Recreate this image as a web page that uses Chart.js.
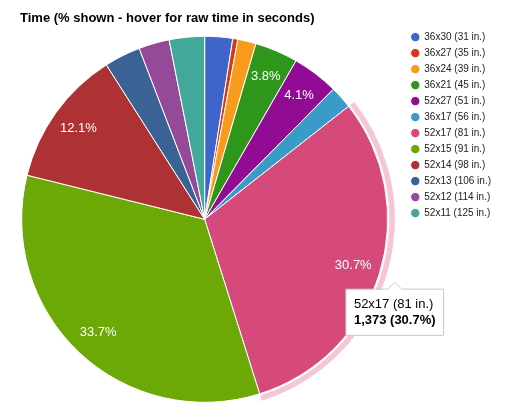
<!DOCTYPE html>
<html>
<head>
<meta charset="utf-8">
<title>Time per gear</title>
<script src="https://cdn.jsdelivr.net/npm/chart.js@4.4.1/dist/chart.umd.min.js"></script>
<style>
  html, body { margin: 0; padding: 0; background: #fff; }
  #wrap { position: relative; width: 531px; height: 417px; }
</style>
</head>
<body>
<div id="wrap"><canvas id="timeChart"></canvas></div>
<script>
const gears = ['36x30', '36x27', '36x24', '36x21', '52x27', '36x17', '52x17', '52x15', '52x14', '52x13', '52x12', '52x11'];
const gearInches = [31, 35, 39, 45, 51, 56, 81, 91, 98, 106, 114, 125];
const seconds = [110, 20, 72, 170, 183, 89, 1373, 1507, 541, 143, 121, 139];
const sliceColors = ['#3e66ca', '#d6391a', '#f89b1c', '#2f961c', '#920b95', '#3a9bc8',
                     '#d64a7b', '#6ca806', '#ae3134', '#3a6294', '#954a99', '#41a89a'];
const highlighted = '52x17';

const labels = gears.map((g, i) => `${g} (${gearInches[i]} in.)`);
const total = seconds.reduce((a, b) => a + b, 0);
const pct = v => v / total * 100;

const FONT = '"Liberation Sans", Arial, sans-serif';

// tooltip sits just outside the hovered slice
Chart.Tooltip.positioners.outerEdge = function (items) {
    if (!items.length) return false;
    const { x, y, startAngle, endAngle, outerRadius } =
        items[0].element.getProps(['x', 'y', 'startAngle', 'endAngle', 'outerRadius'], true);
    const mid = (startAngle + endAngle) / 2;
    const r = outerRadius + 16;
    return { x: x + Math.cos(mid) * r, y: y + Math.sin(mid) * r };
};

// percent text inside the bigger slices
const sliceLabels = {
    id: 'sliceLabels',
    afterDatasetsDraw(chart) {
        const { ctx } = chart;
        const meta = chart.getDatasetMeta(0);
        ctx.save();
        ctx.font = `13px ${FONT}`;
        ctx.fillStyle = '#fff';
        ctx.textAlign = 'center';
        ctx.textBaseline = 'middle';
        meta.data.forEach((arc, i) => {
            const p = pct(seconds[i]);
            if (p < 3.5) return;
            const { x, y, startAngle, endAngle, outerRadius } =
                arc.getProps(['x', 'y', 'startAngle', 'endAngle', 'outerRadius'], true);
            const mid = (startAngle + endAngle) / 2;
            const r = outerRadius * 0.85;
            ctx.fillText(p.toFixed(1) + '%', x + Math.cos(mid) * r, y + Math.sin(mid) * r);
        });
        ctx.restore();
    }
};

// light ring around the highlighted slice
const hoverRing = {
    id: 'hoverRing',
    afterDatasetsDraw(chart) {
        const arc = chart.getDatasetMeta(0).data[gears.indexOf(highlighted)];
        if (!arc) return;
        const { x, y, startAngle, endAngle, outerRadius } =
            arc.getProps(['x', 'y', 'startAngle', 'endAngle', 'outerRadius'], true);
        const { ctx } = chart;
        ctx.save();
        ctx.beginPath();
        ctx.arc(x, y, outerRadius + 4.5, startAngle, endAngle);
        ctx.lineWidth = 5.5;
        ctx.strokeStyle = '#f4c6d6';
        ctx.stroke();
        ctx.restore();
    }
};

// Google puts the title a bit further in than the pie's left edge
const titleIndent = {
    id: 'titleIndent',
    afterLayout(chart) {
        const t = chart.titleBlock;
        if (t) { t.left += 16; t.right += 16; }
    }
};

const chart = new Chart(document.getElementById('timeChart'), {
    type: 'pie',
    data: {
        labels: labels,
        datasets: [{
            data: seconds,
            backgroundColor: sliceColors,
            hoverBackgroundColor: sliceColors,
            borderColor: '#fff',
            hoverBorderColor: '#fff',
            borderWidth: 1,
            hoverBorderWidth: 1,
            hoverOffset: 0
        }]
    },
    options: {
        responsive: true,
        maintainAspectRatio: false,
        animation: false,
        radius: 183,
        layout: { padding: { left: 4, right: 30, top: 0, bottom: 4.5 } },
        plugins: {
            title: {
                display: true,
                text: 'Time (% shown - hover for raw time in seconds)',
                align: 'start',
                color: '#000',
                font: { family: FONT, size: 13, weight: 'bold' },
                padding: { top: 10.5, bottom: 0 }
            },
            legend: {
                position: 'right',
                align: 'start',
                fullSize: false,
                labels: {
                    usePointStyle: true,
                    pointStyle: 'circle',
                    boxWidth: 8,
                    boxHeight: 6.6,
                    padding: 6,
                    color: '#222',
                    font: { family: FONT, size: 10 }
                }
            },
            tooltip: {
                position: 'outerEdge',
                xAlign: 'center',
                yAlign: 'top',
                backgroundColor: '#fff',
                borderColor: '#c8c8c8',
                borderWidth: 1,
                cornerRadius: 0,
                caretSize: 7,
                caretPadding: 4,
                displayColors: false,
                titleColor: '#000',
                bodyColor: '#000',
                titleFont: { family: FONT, size: 13, weight: 'normal' },
                bodyFont: { family: FONT, size: 13, weight: 'bold' },
                titleMarginBottom: 1,
                padding: { top: 7, bottom: 7, left: 8, right: 8 },
                callbacks: {
                    title: items => labels[items[0].dataIndex],
                    label: item => `${seconds[item.dataIndex].toLocaleString('en-US')} (${pct(seconds[item.dataIndex]).toFixed(1)}%)`
                }
            }
        }
    },
    plugins: [sliceLabels, hoverRing, titleIndent]
});

// show the hover state of the reference
chart.tooltip.setActiveElements([{ datasetIndex: 0, index: gears.indexOf(highlighted) }], { x: 0, y: 0 });
chart.update();
</script>
</body>
</html>
